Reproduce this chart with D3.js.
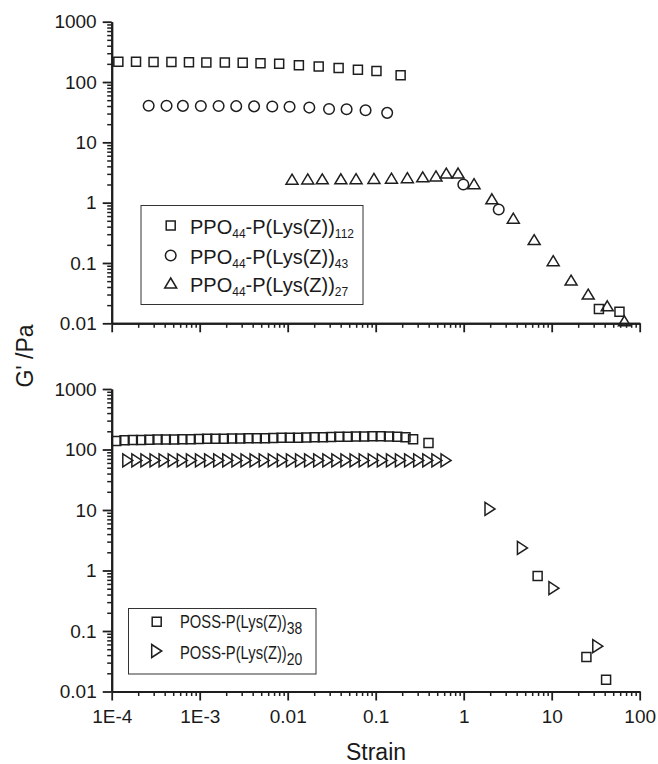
<!DOCTYPE html>
<html><head><meta charset="utf-8">
<script src="https://cdn.jsdelivr.net/npm/d3@7"></script>
<style>
body{margin:0;background:#fff}
text{font-family:"Liberation Sans",Arial,Helvetica,sans-serif;fill:#1a1a1a}
</style>
</head><body><script>
// ---------- DATA ----------
const xTickValues = [1e-4, 1e-3, 0.01, 0.1, 1, 10, 100];
const xTickLabels = ["1E-4", "1E-3", "0.01", "0.1", "1", "10", "100"];
const yTickValues = [0.01, 0.1, 1, 10, 100, 1000];
const yTickLabels = ["0.01", "0.1", "1", "10", "100", "1000"];

// Top panel: PPO44-P(Lys(Z))n
const ppo112X = [1.19e-4, 1.89e-4, 2.99e-4, 4.77e-4, 7.55e-4, 1.19e-3, 1.93e-3, 3.08e-3, 4.91e-3, 8.0e-3, 0.0134, 0.0225, 0.0379, 0.0628, 0.102, 0.192, 34.4, 58.9];
const ppo112Y = [217, 216, 214, 214, 213, 211, 210, 208, 205, 200, 190, 180, 170, 160, 153, 130, 0.0172, 0.0155];
const ppo43X = [2.63e-4, 4.2e-4, 6.44e-4, 1.03e-3, 1.64e-3, 2.6e-3, 4.15e-3, 6.68e-3, 0.0105, 0.0176, 0.0295, 0.0467, 0.0767, 0.135, 0.99, 2.5];
const ppo43Y = [40.5, 40.3, 40.2, 40.1, 40.0, 39.8, 39.5, 39.2, 38.8, 37.7, 35.8, 35.3, 34.0, 30.8, 2.0, 0.77];
const ppo27X = [0.0112, 0.0169, 0.0247, 0.0402, 0.0598, 0.0955, 0.151, 0.229, 0.342, 0.484, 0.634, 0.863, 1.31, 2.09, 3.66, 6.32, 10.4, 16.6, 26.0, 42.8, 67.0];
const ppo27Y = [2.45, 2.47, 2.48, 2.49, 2.5, 2.52, 2.55, 2.6, 2.68, 2.78, 3.09, 3.1, 2.06, 1.16, 0.552, 0.244, 0.109, 0.052, 0.0305, 0.0195, 0.011];

// Bottom panel: POSS-P(Lys(Z))n
const poss38X = [1.127e-4, 1.40e-4, 1.738e-4, 2.158e-4, 2.68e-4, 3.32e-4, 4.12e-4, 5.12e-4, 6.35e-4, 7.89e-4, 9.79e-4, 1.216e-3, 1.51e-3, 1.875e-3, 2.33e-3, 2.89e-3, 3.58e-3, 4.45e-3, 5.52e-3, 6.86e-3, 8.51e-3, 0.01057, 0.01312, 0.01629, 0.0202, 0.0251, 0.0311, 0.0386, 0.048, 0.0596, 0.0740, 0.0918, 0.114, 0.1416, 0.1758, 0.218, 0.266, 0.398, 6.92, 24.8, 41.5];
const poss38Y = [138, 142, 143, 144, 145, 146, 146, 147, 148, 148, 149, 150, 150, 151, 152, 152, 153, 154, 154, 155, 156, 157, 157, 158, 159, 160, 161, 162, 163, 164, 164, 165, 165, 164, 162, 160, 148, 128, 0.81, 0.037, 0.0156];
const poss20X = [1.524e-4, 1.932e-4, 2.449e-4, 3.11e-4, 3.94e-4, 5.00e-4, 6.35e-4, 8.05e-4, 1.021e-3, 1.297e-3, 1.644e-3, 2.085e-3, 2.65e-3, 3.36e-3, 4.26e-3, 5.41e-3, 6.86e-3, 8.69e-3, 0.01102, 0.01400, 0.01774, 0.0225, 0.0286, 0.0362, 0.0459, 0.0583, 0.0740, 0.0938, 0.119, 0.151, 0.191, 0.243, 0.308, 0.391, 0.496, 0.630, 1.99, 4.65, 10.6, 33.4];
const poss20Y = [66, 66, 66, 66, 66, 66, 66, 66, 66, 66, 66, 66, 66, 66, 66, 66, 66, 66, 66, 66, 66, 66, 66, 66, 66, 66, 66, 66, 66, 66, 66, 66, 66, 66, 66, 66, 10.4, 2.36, 0.51, 0.056];

const topLegendMain = ["PPO", "PPO", "PPO"];
const topLegendSub1 = ["44", "44", "44"];
const topLegendMid = ["-P(Lys(Z))", "-P(Lys(Z))", "-P(Lys(Z))"];
const topLegendSub2 = ["112", "43", "27"];
const botLegendMain = ["POSS-P(Lys(Z))", "POSS-P(Lys(Z))"];
const botLegendSub = ["38", "20"];

// ---------- CHART ----------
const W = 658, H = 764;
const svg = d3.select("body").append("svg").attr("width", W).attr("height", H);
const ink = "#1e1e1e";

const x = d3.scaleLog().domain([1e-4, 100]).range([111.7, 639.7]);
const yTop = d3.scaleLog().domain([0.01, 1000]).range([323.3, 21.7]);
const yBot = d3.scaleLog().domain([0.01, 1000]).range([691.5, 389]);

function minors(lo, hi) {
  const out = [];
  for (let e = lo; e < hi; e++) for (let m = 2; m <= 9; m++) out.push(m * Math.pow(10, e));
  return out;
}
const xMinor = minors(-4, 2);
const yMinor = minors(-2, 3);

function styleAxis(g, sw) {
  g.select(".domain").attr("stroke", ink).attr("stroke-width", 2);
  g.selectAll(".tick line").attr("stroke", ink).attr("stroke-width", sw);
  g.selectAll(".tick text").attr("fill", ink).style("font-size", "19px")
    .style("font-family", '"Liberation Sans",Arial,sans-serif');
}

function panel(y, showXLabels) {
  const y0 = y.range()[0];
  const gxm = svg.append("g").attr("transform", `translate(0,${y0})`)
    .call(d3.axisBottom(x).tickValues(xMinor).tickSize(4.5).tickSizeOuter(0).tickFormat(""));
  styleAxis(gxm, 1.5);
  const gx = svg.append("g").attr("transform", `translate(0,${y0})`)
    .call(d3.axisBottom(x).tickValues(xTickValues).tickSize(9).tickSizeOuter(0).tickPadding(9)
      .tickFormat((d, i) => showXLabels ? xTickLabels[i] : ""));
  styleAxis(gx, 1.8);
  const gym = svg.append("g").attr("transform", `translate(${x.range()[0]},0)`)
    .call(d3.axisLeft(y).tickValues(yMinor).tickSize(4.5).tickSizeOuter(0).tickFormat(""));
  styleAxis(gym, 1.5);
  const gy = svg.append("g").attr("transform", `translate(${x.range()[0]},0)`)
    .call(d3.axisLeft(y).tickValues(yTickValues).tickSize(9).tickSizeOuter(0).tickPadding(6)
      .tickFormat((d, i) => yTickLabels[i]));
  styleAxis(gy, 1.8);
}
panel(yTop, false);
panel(yBot, true);

const shapes = {
  square: "M-4.5,-4.5H4.5V4.5H-4.5Z",
  circle: d3.symbol(d3.symbolCircle, Math.PI * 5.3 * 5.3)(),
  triUp: "M0,-5L6,5L-6,5Z",
  triRight: "M-5,-6.5L5,0L-5,6.5Z"
};

function series(xs, ys, y, shape) {
  svg.append("g").selectAll("path").data(xs.map((v, i) => [v, ys[i]])).join("path")
    .attr("d", shapes[shape])
    .attr("transform", d => `translate(${x(d[0])},${y(d[1])})`)
    .attr("fill", "none").attr("stroke", ink).attr("stroke-width", 1.5);
}
series(ppo112X, ppo112Y, yTop, "square");
series(ppo43X, ppo43Y, yTop, "circle");
series(ppo27X, ppo27Y, yTop, "triUp");
series(poss38X, poss38Y, yBot, "square");
series(poss20X, poss20Y, yBot, "triRight");

// ---------- LEGENDS ----------
svg.append("rect").attr("x", 141).attr("y", 205.5).attr("width", 222).attr("height", 99)
  .attr("fill", "none").attr("stroke", "#333").attr("stroke-width", 1);
const topShapes = ["square", "circle", "triUp"];
const topSymY = [225.5, 255.5, 283];
const topBase = [234, 264, 292];
topShapes.forEach((s, i) => {
  svg.append("path").attr("d", shapes[s]).attr("transform", `translate(170.7,${topSymY[i]})`)
    .attr("fill", "none").attr("stroke", ink).attr("stroke-width", 1.5);
  const t = svg.append("text").attr("x", 190).attr("y", topBase[i]).style("font-size", "20px");
  t.append("tspan").text(topLegendMain[i]);
  t.append("tspan").attr("dy", 4).style("font-size", "12px").text(topLegendSub1[i]);
  t.append("tspan").attr("dy", -4).text(topLegendMid[i]);
  t.append("tspan").attr("dy", 4).style("font-size", "12px").text(topLegendSub2[i]);
});

svg.append("rect").attr("x", 128.5).attr("y", 608.5).attr("width", 187.5).attr("height", 65.5)
  .attr("fill", "none").attr("stroke", "#333").attr("stroke-width", 1);
const botShapes = ["square", "triRight"];
const botSymY = [621.7, 651];
const botBase = [627.5, 659];
botShapes.forEach((s, i) => {
  svg.append("path").attr("d", shapes[s]).attr("transform", `translate(156.7,${botSymY[i]})`)
    .attr("fill", "none").attr("stroke", ink).attr("stroke-width", 1.5);
  const t = svg.append("text").attr("transform", `translate(180,${botBase[i]}) scale(0.82,1)`)
    .style("font-size", "18px");
  t.append("tspan").text(botLegendMain[i]);
  t.append("tspan").attr("dy", 6).style("font-size", "17px").text(botLegendSub[i]);
});

// ---------- AXIS TITLES ----------
svg.append("text").attr("transform", "translate(33,356) rotate(-90)")
  .attr("text-anchor", "middle").style("font-size", "23px").text("G' /Pa");
svg.append("text").attr("x", 376).attr("y", 760).attr("text-anchor", "middle")
  .style("font-size", "23px").text("Strain");
</script></body></html>
